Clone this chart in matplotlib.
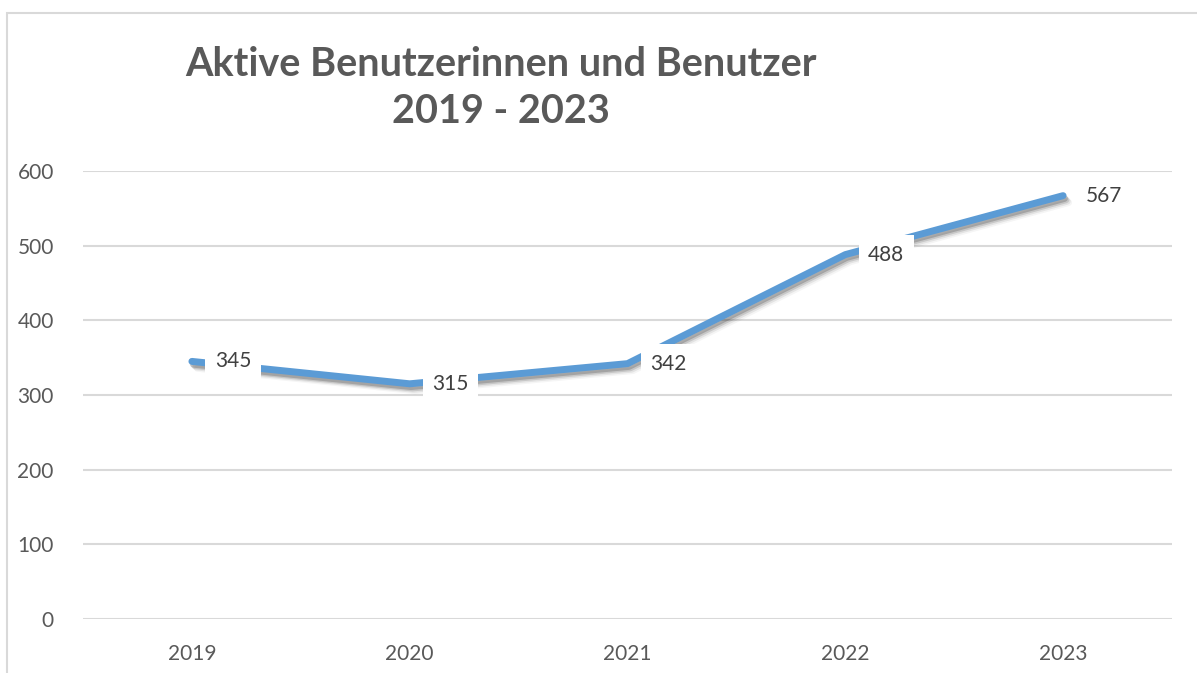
import matplotlib
matplotlib.use('Agg')

import matplotlib.pyplot as plt
import matplotlib.patheffects as pe
from matplotlib.patches import Rectangle

years = ["2019", "2020", "2021", "2022", "2023"]
users = [345, 315, 342, 488, 567]
yticks = [0, 100, 200, 300, 400, 500, 600]

plt.rcParams['font.family'] = ['Lato', 'DejaVu Sans']

fig = plt.figure(figsize=(11.97, 6.73), dpi=100)
ax = fig.add_axes([83 / 1197, 54 / 673, 1089 / 1197, 448 / 673])

# outer chart border (cut off at right and bottom like the screenshot)
fig.add_artist(Rectangle((7 / 1197, -0.05), 1.2, 1 - 13 / 673 + 0.05,
                         transform=fig.transFigure, fill=False,
                         edgecolor="#D9D9D9", linewidth=1.5))

x = list(range(len(years)))
# soft shadow: a few offset strokes with falling alpha
shadow = [pe.SimpleLineShadow(offset=(1 + i, -2 - i), shadow_color="black", alpha=a)
          for i, a in enumerate([0.18, 0.12, 0.07, 0.04])]
ax.plot(x, users, color="#5B9BD5", linewidth=5, solid_capstyle="round",
        solid_joinstyle="round", zorder=3,
        path_effects=shadow + [pe.Normal()])

for xi, v in zip(x, users):
    ax.annotate(str(v), (xi, v), xytext=(16.5, 0), textcoords="offset points",
                ha="left", va="center", fontsize=15, color="#404040", zorder=5,
                bbox=dict(boxstyle="square,pad=0.45", facecolor="white", edgecolor="none"))

ax.set_xlim(-0.5, 4.5)
ax.set_ylim(0, 600)
ax.set_xticks(x)
ax.set_xticklabels(years)
ax.set_yticks(yticks)
ax.tick_params(length=0, labelsize=15, labelcolor="#595959")
ax.tick_params(axis="y", pad=21)
ax.tick_params(axis="x", pad=18)
ax.grid(axis="y", color="#D9D9D9", linewidth=1.5)
ax.set_axisbelow(True)
for s in ax.spines.values():
    s.set_visible(False)

fig.text(501 / 1197, 1 - 88 / 673, "Aktive Benutzerinnen und Benutzer\n2019 - 2023",
         ha="center", va="center", fontsize=28.5, fontweight="bold", color="#595959",
         linespacing=1.32)

fig.savefig("out.png", dpi=100, facecolor="white")
